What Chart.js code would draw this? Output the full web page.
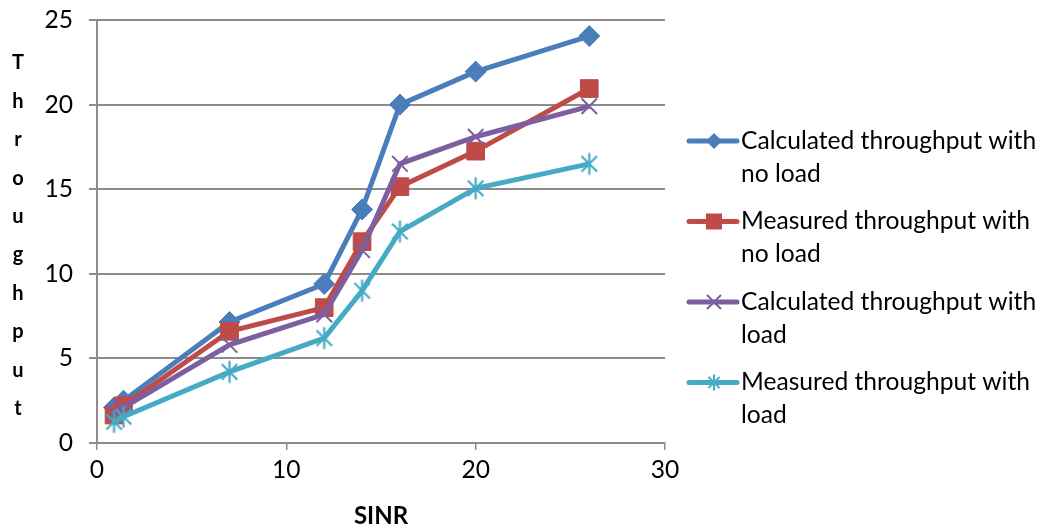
<!DOCTYPE html>
<html>
<head>
<meta charset="utf-8">
<script src="https://cdn.jsdelivr.net/npm/chart.js@4.4.1/dist/chart.umd.min.js"></script>
<style>
  html, body { margin: 0; padding: 0; background: #ffffff; }
  #wrap { width: 1042px; height: 531px; position: relative; }
</style>
</head>
<body>
<div id="wrap"><canvas id="c"></canvas></div>
<script>
// SINR values (x) and throughput series (y)
const sinr = [0.9, 1.4, 7, 12, 14, 16, 20, 26];
const calcNoLoad = [2.1, 2.5, 7.15, 9.4, 13.8, 20.0, 21.95, 24.05];
const measNoLoad = [1.65, 2.2, 6.6, 8.0, 11.9, 15.15, 17.25, 20.95];
const calcLoad = [1.8, 2.1, 5.8, 7.6, 11.4, 16.5, 18.1, 19.9];
const measLoad = [1.25, 1.55, 4.2, 6.2, 9.0, 12.5, 15.05, 16.5];

const seriesNames = [
  ['Calculated throughput with', 'no load'],
  ['Measured throughput with', 'no load'],
  ['Calculated throughput with', 'load'],
  ['Measured throughput with', 'load']
];
const yTickValues = [0, 5, 10, 15, 20, 25];
const xTickValues = [0, 10, 20, 30];
const yTitle = 'Throughput';
const xTitle = 'SINR';

const FONT = 'Lato, "Open Sans", sans-serif';
const BLUE = '#4a7ebb', RED = '#be4b48', PURPLE = '#7d5fa0', CYAN = '#46aac5';

// asterisk-like marker: an X with a vertical bar
function starMarker(color, r, lw) {
  const s = Math.ceil(2 * r + lw + 2);
  const cv = document.createElement('canvas');
  cv.width = s; cv.height = s;
  const g = cv.getContext('2d');
  const c = s / 2, d = r * Math.SQRT1_2;
  g.strokeStyle = color; g.lineWidth = lw; g.lineCap = 'butt';
  g.beginPath();
  g.moveTo(c - d, c - d); g.lineTo(c + d, c + d);
  g.moveTo(c + d, c - d); g.lineTo(c - d, c + d);
  g.moveTo(c, c - r); g.lineTo(c, c + r);
  g.stroke();
  return cv;
}

const starBig = starMarker(CYAN, 11, 2.2);
const starSmall = starMarker(CYAN, 8, 2);

function pts(ys) { return sinr.map((x, i) => ({ x: x, y: ys[i] })); }

const datasets = [
  { data: pts(calcNoLoad), borderColor: BLUE, backgroundColor: BLUE, pointStyle: 'rectRot', pointRadius: 10.5, pointBorderWidth: 1, order: 3 },
  { data: pts(measNoLoad), borderColor: RED, backgroundColor: RED, pointStyle: 'rect', pointRadius: 12.5, pointBorderWidth: 1, order: 2 },
  { data: pts(calcLoad), borderColor: PURPLE, backgroundColor: PURPLE, pointStyle: 'crossRot', pointRadius: 11, pointBorderWidth: 2, order: 1 },
  { data: pts(measLoad), borderColor: CYAN, backgroundColor: CYAN, pointStyle: starBig, pointRadius: 11, pointBorderWidth: 2, order: 0 }
].map((d, i) => Object.assign({
  label: seriesNames[i].join(' '),
  borderWidth: 5,
  tension: 0,
  fill: false,
  pointHoverRadius: d.pointRadius
}, d));

// legend with wrapped labels and line+marker swatches
const sideLegend = {
  id: 'sideLegend',
  afterDraw(chart, args, opts) {
    const ctx = chart.ctx;
    ctx.save();
    ctx.font = opts.fontSize + 'px ' + FONT;
    ctx.fillStyle = '#000';
    ctx.textBaseline = 'middle';
    ctx.textAlign = 'left';
    chart.data.datasets.forEach((ds, i) => {
      const y = opts.top + i * opts.itemGap;
      // swatch line
      ctx.strokeStyle = ds.borderColor;
      ctx.lineWidth = 5;
      ctx.lineCap = 'round';
      ctx.beginPath();
      ctx.moveTo(opts.x0, y); ctx.lineTo(opts.x1, y);
      ctx.stroke();
      // swatch marker
      const mx = (opts.x0 + opts.x1) / 2 + 1;
      ctx.fillStyle = ds.borderColor;
      ctx.strokeStyle = ds.borderColor;
      if (i === 0) {
        ctx.beginPath();
        ctx.moveTo(mx, y - 8); ctx.lineTo(mx + 8, y); ctx.lineTo(mx, y + 8); ctx.lineTo(mx - 8, y);
        ctx.closePath(); ctx.fill();
      } else if (i === 1) {
        ctx.fillRect(mx - 8, y - 8, 16, 16);
      } else if (i === 2) {
        ctx.lineWidth = 2; ctx.lineCap = 'butt';
        ctx.beginPath();
        ctx.moveTo(mx - 7, y - 7); ctx.lineTo(mx + 7, y + 7);
        ctx.moveTo(mx + 7, y - 7); ctx.lineTo(mx - 7, y + 7);
        ctx.stroke();
      } else {
        ctx.drawImage(starSmall, mx - starSmall.width / 2, y - starSmall.height / 2);
      }
      ctx.fillStyle = '#000';
      seriesNames[i].forEach((line, k) => {
        ctx.fillText(line, opts.textX, y + k * opts.lineGap);
      });
    });
    // vertical stacked y title
    ctx.font = 'bold ' + opts.yTitleSize + 'px ' + FONT;
    ctx.textAlign = 'center';
    yTitle.split('').forEach((ch, k) => {
      ctx.fillText(ch, opts.yTitleX, opts.yTitleTop + k * opts.yTitleGap);
    });
    ctx.restore();
  }
};

new Chart(document.getElementById('c'), {
  type: 'line',
  data: { datasets: datasets },
  plugins: [sideLegend],
  options: {
    responsive: true,
    maintainAspectRatio: false,
    animation: false,
    events: [],
    layout: { padding: { top: 20, right: 377, left: 0, bottom: 0 } },
    plugins: {
      legend: { display: false },
      tooltip: { enabled: false },
      sideLegend: {
        x0: 689, x1: 737, textX: 741, top: 141, itemGap: 80.5, lineGap: 33,
        fontSize: 24.6,
        yTitleX: 18, yTitleTop: 63, yTitleGap: 38.4, yTitleSize: 20
      }
    },
    scales: {
      x: {
        type: 'linear',
        min: 0, max: 30,
        afterBuildTicks: s => { s.ticks = xTickValues.map(v => ({ value: v })); },
        afterFit: s => { s.height = 88; s.paddingLeft = 0; s.paddingRight = 0; },
        grid: { drawOnChartArea: false, drawTicks: true, tickLength: 7, color: '#8c8c8c', lineWidth: 1.5 },
        border: { color: '#8c8c8c', width: 2 },
        ticks: { color: '#000', font: { family: FONT, size: 24.6 }, padding: 5 },
        title: { display: true, text: xTitle, color: '#000', font: { family: FONT, size: 24, weight: 'bold' }, padding: { top: 0, bottom: 0 } }
      },
      y: {
        type: 'linear',
        min: 0, max: 25,
        afterBuildTicks: s => { s.ticks = yTickValues.map(v => ({ value: v })); },
        afterFit: s => { s.width = 97; s.paddingTop = 0; s.paddingBottom = 0; },
        grid: { color: '#8c8c8c', lineWidth: 2, tickLength: 8 },
        border: { color: '#8c8c8c', width: 2 },
        ticks: { color: '#000', font: { family: FONT, size: 24.6 }, padding: 16 }
      }
    }
  }
});
</script>
</body>
</html>
